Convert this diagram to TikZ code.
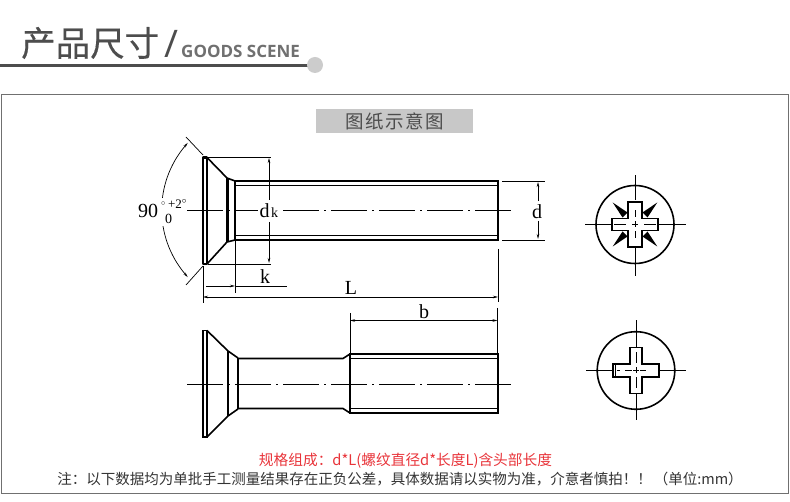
\documentclass[tikz,border=0pt]{standalone}
\usepackage{fontspec}
\setmainfont{Liberation Serif}
\newfontfamily\cjk{Noto Sans CJK SC}
\newfontfamily\cjkmed[FakeBold=0.35]{Noto Sans CJK SC}
\newfontfamily\latinsans{Open Sans}
\usetikzlibrary{arrows.meta}
\definecolor{titlegrey}{HTML}{4D4D4D}
\definecolor{labelgrey}{HTML}{C8C8C8}
\definecolor{dotgrey}{HTML}{CCCCCC}
\definecolor{framegrey}{HTML}{707070}
\definecolor{notegrey}{HTML}{333333}
\definecolor{redtext}{HTML}{E8343A}
\tikzset{
  thickline/.style={line width=2.8pt,black,line join=miter},
  medline/.style={line width=1.6pt,black},
  thinline/.style={line width=1pt,black},
  dimline/.style={line width=0.7pt,black},
  arrowboth/.style={dimline,{Stealth[length=5pt,width=2.5pt]}-{Stealth[length=5pt,width=2.5pt]}},
  arrowend/.style={dimline,-{Stealth[length=5pt,width=2.5pt]}},
  arrowstart/.style={dimline,{Stealth[length=5pt,width=2.5pt]}-},
  centreline/.style={line width=0.8pt,black,dash pattern=on 36pt off 5pt on 2pt off 5pt},
  dimtext/.style={inner sep=0pt,font=\fontsize{20}{20}\selectfont},
  spike/.style={fill=black,draw=none},
  recess/.style={line width=1.8pt,line join=miter},
}
\begin{document}
\begin{tikzpicture}[x=1pt,y=-1pt]
\useasboundingbox (0,0) rectangle (790,502);
% header
\node[inner sep=0pt,anchor=west,text=titlegrey,font=\cjkmed\fontsize{34.5}{36}\selectfont] (title) at (21,43) {产品尺寸};
\node[inner sep=0pt,text=titlegrey,font=\latinsans\fontsize{38}{38}\selectfont] (slash) at (171,44) {/};
\node[inner sep=0pt,anchor=west,text=framegrey,font=\latinsans\bfseries\fontsize{17}{18}\selectfont] (goods) at (181,51) {GOODS SCENE};
\draw[line width=3pt,titlegrey] (0,65.5) -- (308,65.5);
\fill[dotgrey] (315,65) circle[radius=8];
% frame
\draw[line width=1pt,framegrey] (1.5,94.5) -- (788.5,94.5) -- (788.5,493) -- (1.5,493) -- cycle;
% label
\node[fill=labelgrey,minimum width=157pt,minimum height=24pt,inner sep=0pt,text=titlegrey,font=\cjk\fontsize{18.5}{20}\selectfont] (drawlabel) at (394.5,121) {图\hspace{1.5pt}纸\hspace{1.5pt}示\hspace{1.5pt}意\hspace{1.5pt}图};
% upper screw
\draw[centreline] (187,210) -- (513,210);
\draw[line width=2.6pt,line join=round] (203,157.5) rectangle (207,264);
\draw[medline] (207,157.5) -- (227,178) -- (235,181);
\draw[medline] (207,264) -- (227,242) -- (235,240);
\draw[line width=2.2pt] (227.5,178) -- (227.5,242);
\draw[line width=1.8pt] (235,181) -- (235,240);
\draw[thickline] (235,181) -- (498,181) -- (498,240) -- (235,240);
\draw[thinline] (235,185.5) -- (497,185.5);
\draw[thinline] (235,235.5) -- (497,235.5);
% head dims
\draw[dimline] (208,157) -- (271,157);
\draw[dimline] (208,264) -- (271,264);
\draw[arrowstart] (269,158) -- (269,200);
\draw[arrowend] (269,222) -- (269,263);
\fill[white] (258,201) rectangle (282,221);
\node[dimtext] (dklabel) at (264.5,211) {d};
\node[inner sep=0pt,font=\fontsize{14}{14}\selectfont] (dksub) at (274.5,212.5) {k};
% angle
\draw[dimline] (186,137) -- (203,155);
\draw[dimline] (186,285) -- (203,266);
\draw[arrowstart] plot[smooth,domain=222.5:187,samples=15] ({261+99.3*cos(\x)},{210+99.3*sin(\x)});
\draw[arrowstart] plot[smooth,domain=137.5:173,samples=15] ({261+99.3*cos(\x)},{210+99.3*sin(\x)});
\fill[white] (137,198) rectangle (187,226);
\node[inner sep=0pt,font=\fontsize{20}{20}\selectfont] (angle) at (148,211) {90};
\node[inner sep=0pt,font=\fontsize{11}{11}\selectfont] (deg) at (163.5,206) {$^{\circ}$};
\node[inner sep=0pt,font=\fontsize{14}{14}\selectfont] (zero) at (168.5,219) {0};
\node[inner sep=0pt,font=\fontsize{13}{13}\selectfont] (plustwo) at (177.5,204) {+2$^{\circ}$};
% k and L
\draw[dimline] (235,240) -- (235,293);
\draw[dimline] (203,266) -- (203,303);
\draw[arrowend] (206,286) -- (235,286);
\draw[dimline] (235,286) -- (287,286);
\node[dimtext] (klabel) at (265,277) {k};
\draw[arrowboth] (203,297) -- (498,297);
\draw[dimline] (498,249) -- (498,302);
\node[dimtext] (Llabel) at (351,288) {L};
% d
\draw[dimline] (502,181) -- (545,181);
\draw[dimline] (502,240) -- (545,240);
\draw[arrowstart] (538,182) -- (538,201);
\draw[arrowend] (538,221) -- (538,239);
\node[dimtext] (dlabel) at (537,212) {d};
% lower screw
\draw[centreline] (187,384.5) -- (514,384.5);
\draw[line width=1.8pt] (203,330.5) rectangle (207,437);
\draw[medline] (207,330.5) -- (228,351) -- (238,358);
\draw[medline] (207,437) -- (228,416) -- (238,409);
\draw[line width=1.8pt] (228,351) -- (228,416);
\draw[line width=2.2pt] (238,358) -- (238,409);
\draw[medline] (238,358.5) -- (343,358.5) -- (350,354);
\draw[medline] (238,408.5) -- (343,408.5) -- (350,413);
\draw[thickline] (350,354) rectangle (498,413);
\draw[thinline] (350,358.5) -- (497,358.5);
\draw[thinline] (350,409) -- (497,409);
\draw[dimline] (350,313) -- (350,353);
\draw[dimline] (497.5,308) -- (497.5,353);
\draw[arrowboth] (350,320.5) -- (497.5,320.5);
\node[dimtext] (blabel) at (424,312) {b};
% upper recess view
\begin{scope}[shift={(635,224.5)}]
\draw[line width=1.6pt] (0,0) circle[radius=39];
\draw[dimline] (-50,0) -- (-23,0);
\draw[dimline] (-21,0) -- (-9,0);
\draw[dimline] (9,0) -- (21,0);
\draw[dimline] (23,0) -- (51,0);
\draw[dimline] (0,-49) -- (0,-24);
\draw[dimline] (0,24) -- (0,52);
\draw[dimline] (0,-3) -- (0,3);
\draw[dimline] (-3,0) -- (3,0);
\draw[dimline] (0,-14) -- (0,-7);
\draw[dimline] (0,7) -- (0,14);
\draw[recess] (-7,-22.5) -- (7,-22.5) -- (7,-6) -- (23,-6) -- (23,6) -- (7,6) -- (7,22.5) -- (-7,22.5) -- (-7,6) -- (-23,6) -- (-23,-6) -- (-7,-6) -- cycle;
\fill[spike] (22.3,-22) -- (7.5,-12) -- (12.5,-7) -- cycle;
\fill[spike] (-22.3,-22) -- (-7.5,-12) -- (-12.5,-7) -- cycle;
\fill[spike] (22.3,22) -- (7.5,12) -- (12.5,7) -- cycle;
\fill[spike] (-22.3,22) -- (-7.5,12) -- (-12.5,7) -- cycle;
\end{scope}
% lower recess view
\begin{scope}[shift={(636,370.5)}]
\draw[line width=1.6pt] (0,0) circle[radius=38.8];
\draw[dimline] (-50,0) -- (-23,0);
\draw[dimline] (-19,0) -- (-16,0);
\draw[dimline] (-11,0) -- (-4,0);
\draw[dimline] (4,0) -- (10,0);
\draw[dimline] (23,0) -- (50,0);
\draw[dimline] (0,-50) -- (0,-23);
\draw[dimline] (0,23) -- (0,50);
\draw[dimline] (0,-3) -- (0,3);
\draw[dimline] (-3,0) -- (3,0);
\draw[dimline] (0,-18) -- (0,-7);
\draw[dimline] (0,7) -- (0,18);
\draw[recess] (-6,-23) -- (6,-23) -- (6,-6.3) -- (23,-6.3) -- (23,6.3) -- (6,6.3) -- (6,23) -- (-6,23) -- (-6,6.3) -- (-23,6.3) -- (-23,-6.3) -- (-6,-6.3) -- cycle;
\draw[dimline] (-21,-6) -- (-21,6);
\end{scope}
% notes
\node[inner sep=0pt,text=redtext,font=\cjk\fontsize{14.7}{16}\selectfont] (spec) at (405.5,460.5) {规格组成：d*L(螺纹直径d*长度L)含头部长度};
\node[inner sep=0pt,text=notegrey,font=\cjk\fontsize{14.5}{16}\selectfont] (note) at (400,479.5) {注：以下数据均为单批手工测量结果存在正负公差，具体数据请以实物为准，介意者慎拍！！\hspace{2pt}（单位:mm）};
\end{tikzpicture}
\end{document}
